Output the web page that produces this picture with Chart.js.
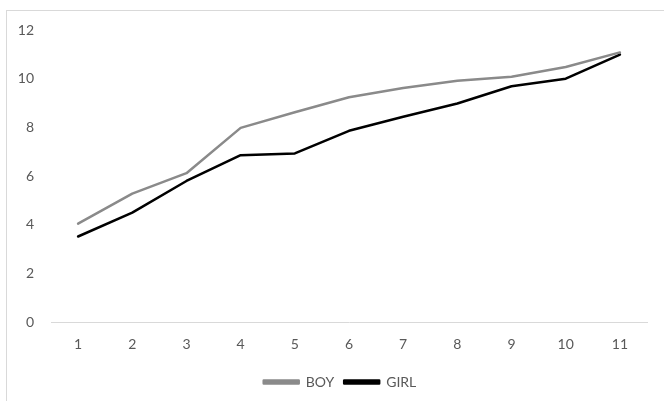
<!DOCTYPE html>
<html>
<head>
<meta charset="utf-8">
<script src="https://cdn.jsdelivr.net/npm/chart.js@4/dist/chart.umd.min.js"></script>
<style>
  html, body { margin: 0; padding: 0; background: #ffffff; overflow: hidden; }
  #wrap { position: relative; width: 664px; height: 401px; }
  #frame { position: absolute; left: 6px; top: 10px; width: 700px; height: 450px;
           border: 1px solid #d9d9d9; box-sizing: border-box; }
  canvas { position: absolute; left: 0; top: 0; }
</style>
</head>
<body>
<div id="wrap">
  <div id="frame"></div>
  <canvas id="c" width="664" height="401"></canvas>
</div>
<script>
// Age categories along the horizontal axis
const categories = ['1', '2', '3', '4', '5', '6', '7', '8', '9', '10', '11'];
// Series values
const boyValues  = [4.05, 5.28, 6.12, 7.98, 8.62, 9.24, 9.62, 9.92, 10.08, 10.48, 11.08];
const girlValues = [3.52, 4.50, 5.80, 6.86, 6.93, 7.86, 8.44, 8.98, 9.69, 10.00, 10.99];
// Vertical axis ticks
const yTicks = [0, 2, 4, 6, 8, 10, 12];

const textColor = '#595959';
const fontFamily = 'Lato, "Open Sans", sans-serif';

// Centre the legend within the framed panel rather than the full canvas
const legendPlacement = {
  id: 'legendPlacement',
  afterLayout(chart) {
    const lg = chart.legend;
    if (!lg) return;
    lg.left = 33;
    lg.width = lg.right - lg.left;
    lg.top -= 2;
    lg.bottom -= 2;
  }
};

new Chart(document.getElementById('c'), {
  type: 'line',
  data: {
    labels: categories,
    datasets: [
      {
        label: 'BOY',
        data: boyValues,
        borderColor: '#8a8a8a',
        backgroundColor: '#8a8a8a',
        borderWidth: 2.5,
        pointRadius: 0,
        tension: 0,
        borderJoinStyle: 'round',
        borderCapStyle: 'round'
      },
      {
        label: 'GIRL',
        data: girlValues,
        borderColor: '#000000',
        backgroundColor: '#000000',
        borderWidth: 2.5,
        pointRadius: 0,
        tension: 0,
        borderJoinStyle: 'round',
        borderCapStyle: 'round'
      }
    ]
  },
  options: {
    responsive: false,
    animation: false,
    layout: { padding: { top: 30, right: 17, bottom: 0, left: 0 } },
    plugins: {
      tooltip: { enabled: false },
      legend: {
        position: 'bottom',
        labels: {
          color: textColor,
          font: { family: fontFamily, size: 14 },
          boxWidth: 35,
          boxHeight: 3,
          padding: 10
        }
      }
    },
    scales: {
      x: {
        offset: true,
        grid: { display: false, drawTicks: false },
        border: { display: true, color: '#d9d9d9', width: 1 },
        ticks: { color: textColor, font: { family: fontFamily, size: 14 }, padding: 14 }
      },
      y: {
        min: yTicks[0],
        max: yTicks[yTicks.length - 1],
        afterFit: s => { s.width = 51; },
        afterBuildTicks: s => { s.ticks = yTicks.map(v => ({ value: v })); },
        grid: { display: false, drawTicks: false },
        border: { display: false },
        ticks: { color: textColor, font: { family: fontFamily, size: 14 }, padding: 17 }
      }
    }
  },
  plugins: [legendPlacement]
});
</script>
</body>
</html>
